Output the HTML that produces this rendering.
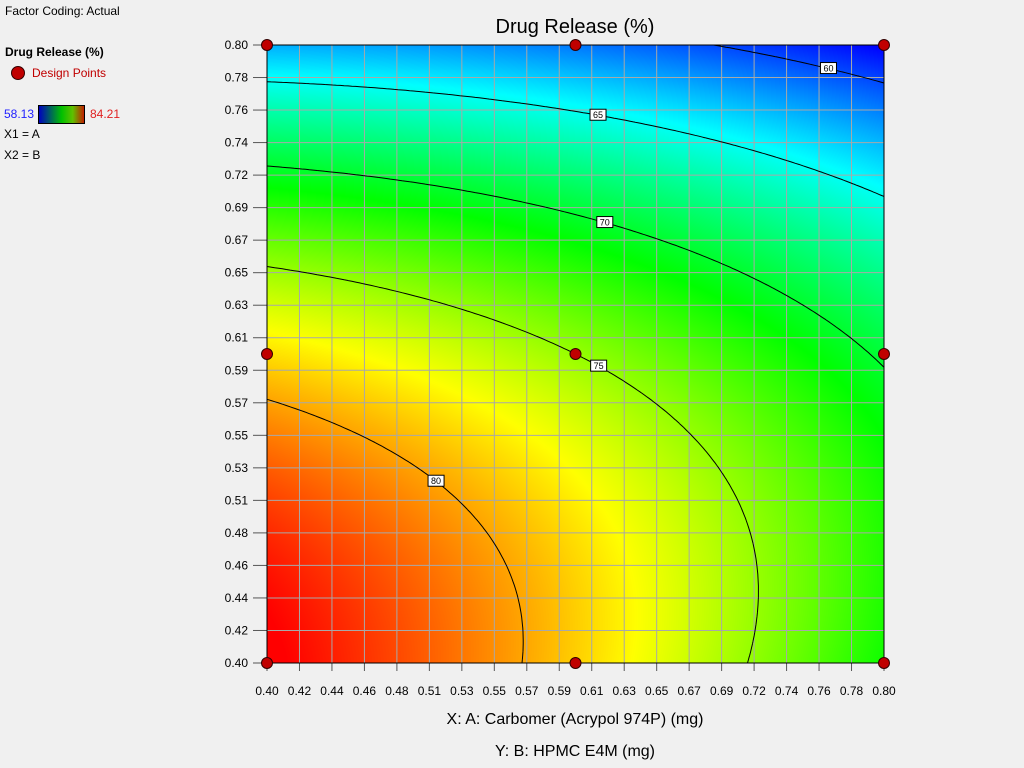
<!DOCTYPE html>
<html><head><meta charset="utf-8"><style>
body{margin:0;background:#f0f0f0;font-family:"Liberation Sans",sans-serif;}
#wrap{position:relative;width:1024px;height:768px;overflow:hidden;background:#f0f0f0}
.t{position:absolute;white-space:nowrap;color:#000}
</style></head><body>
<div id="wrap">
<div class="t" style="left:5px;top:4px;font-size:12px">Factor Coding: Actual</div>
<div class="t" style="left:5px;top:45px;font-size:12px;font-weight:bold">Drug Release (%)</div>
<div style="position:absolute;left:11px;top:66px;width:12px;height:12px;border-radius:50%;background:#c00000;border:1px solid #300"></div>
<div class="t" style="left:32px;top:66px;font-size:12px;color:#c00000">Design Points</div>
<div class="t" style="left:4px;top:107px;font-size:12px;color:#2020ff">58.13</div>
<div style="position:absolute;left:38px;top:105px;width:45px;height:17px;border:1px solid #000;background:linear-gradient(to right,#0000c0,#006060,#00c000,#60c000,#c02000)"></div>
<div class="t" style="left:90px;top:107px;font-size:12px;color:#e02020">84.21</div>
<div class="t" style="left:4px;top:127px;font-size:12px">X1 = A</div>
<div class="t" style="left:4px;top:148px;font-size:12px">X2 = B</div>
<div class="t" style="left:0;width:1150px;text-align:center;top:16px;font-size:20px">Drug Release (%)</div>
<canvas id="heat" width="617" height="618" style="position:absolute;left:267px;top:45px"></canvas>
<svg id="svg" width="1024" height="768" style="position:absolute;left:0;top:0"></svg>
<div class="t" style="left:0;width:1150px;text-align:center;top:711px;font-size:16px">X: A: Carbomer (Acrypol 974P) (mg)</div>
<div class="t" style="left:0;width:1150px;text-align:center;top:743px;font-size:16px">Y: B: HPMC E4M (mg)</div>
</div>
<script>
// quadratic model coefficients in coded units: [c0, A, B, AB, A^2, B^2]
const coefs=[75,-4.39,-8.85,2.11,-0.89,-4.95];
const colorRange=[58.13,84.21];
const contourLevels=[60,65,70,75,80];
const labelA=[0.764,0.6146,0.619,0.615,0.5096]; // actual A value where each contour label sits
const designA=[0.40,0.60,0.80,0.40,0.60,0.80,0.40,0.60,0.80];
const designB=[0.80,0.80,0.80,0.60,0.60,0.60,0.40,0.40,0.40];
const tickCount=20, lo=0.40, hi=0.80;

const X0=267,X1=884,Y0=663,Y1=45;
const sx=v=>X0+(v-lo)/(hi-lo)*(X1-X0);
const sy=v=>Y0-(v-lo)/(hi-lo)*(Y0-Y1);
const coded=v=>(v-0.6)/0.2;
function model(A,B){const a=coded(A),b=coded(B);const c=coefs;return c[0]+c[1]*a+c[2]*b+c[3]*a*b+c[4]*a*a+c[5]*b*b;}
function col(y){let t=(y-colorRange[0])/(colorRange[1]-colorRange[0]);t=Math.max(0,Math.min(1,t));
 const s=[[0,0,255],[0,255,255],[0,255,0],[255,255,0],[255,0,0]];const p=t*4,i=Math.min(3,Math.floor(p)),f=p-i;
 return s[i].map((v,k)=>Math.round(v+(s[i+1][k]-v)*f));}
const cv=document.getElementById('heat'),ctx=cv.getContext('2d'),W=cv.width,H=cv.height,img=ctx.createImageData(W,H);
for(let j=0;j<H;j++)for(let i=0;i<W;i++){const A=lo+(i+0.5)/W*(hi-lo),B=hi-(j+0.5)/H*(hi-lo);const c=col(model(A,B));const k=(j*W+i)*4;img.data[k]=c[0];img.data[k+1]=c[1];img.data[k+2]=c[2];img.data[k+3]=255;}
ctx.putImageData(img,0,0);
const NS='http://www.w3.org/2000/svg',svg=document.getElementById('svg');
function el(t,a,p){const e=document.createElementNS(NS,t);for(const k in a)e.setAttribute(k,a[k]);(p||svg).appendChild(e);return e;}
for(let i=0;i<tickCount;i++){const v=lo+i*(hi-lo)/(tickCount-1),lab=v.toFixed(2);
 const gx=el('line',{x1:sx(v),x2:sx(v),y1:Y1,y2:Y0,stroke:'#a8a8a8','stroke-width':1});
 
 const gy=el('line',{x1:X0,x2:X1,y1:sy(v),y2:sy(v),stroke:'#a8a8a8','stroke-width':1});
 
 el('line',{x1:sx(v),x2:sx(v),y1:Y0,y2:Y0+8,stroke:'#555'});
 el('line',{x1:X0-14,x2:X0,y1:sy(v),y2:sy(v),stroke:'#555'});
 const tx=el('text',{x:sx(v),y:Y0+32,'text-anchor':'middle','font-size':12,'font-family':'Liberation Sans'});tx.textContent=lab;
 
 const ty=el('text',{x:X0-19,y:sy(v)+4,'text-anchor':'end','font-size':12,'font-family':'Liberation Sans'});ty.textContent=lab;
 }
el('rect',{x:X0,y:Y1,width:X1-X0,height:Y0-Y1,fill:'none',stroke:'#000'});
const N=160;
contourLevels.forEach((L,li)=>{let d='';
 const val=(i,j)=>model(lo+i/N*(hi-lo),lo+j/N*(hi-lo));
 for(let i=0;i<N;i++)for(let j=0;j<N;j++){
  const c=[[i,j],[i+1,j],[i+1,j+1],[i,j+1]],v=c.map(p=>val(p[0],p[1]));const pts=[];
  for(let k=0;k<4;k++){const a=v[k],b=v[(k+1)%4];if((a-L)*(b-L)<0){const f=(L-a)/(b-a),p=c[k],q=c[(k+1)%4];
   pts.push([lo+(p[0]+(q[0]-p[0])*f)/N*(hi-lo),lo+(p[1]+(q[1]-p[1])*f)/N*(hi-lo)]);}}
  for(let k=0;k+1<pts.length;k+=2)d+=`M${sx(pts[k][0]).toFixed(1)},${sy(pts[k][1]).toFixed(1)}L${sx(pts[k+1][0]).toFixed(1)},${sy(pts[k+1][1]).toFixed(1)}`;}
 const p=el('path',{d:d,stroke:'#000','stroke-width':1,fill:'none'});
 
 const A=labelA[li];let bl=lo,bh=hi;const fl=model(A,bl)-L;
 for(let it=0;it<40;it++){const m=(bl+bh)/2;if((model(A,m)-L)*fl>0)bl=m;else bh=m;}
 const Bv=(bl+bh)/2,lx=sx(A),ly=sy(Bv);
 const g=el('g',{});
 el('rect',{x:lx-8,y:ly-6,width:16,height:11,fill:'#fff',stroke:'#000','stroke-width':1},g);
 const t=el('text',{x:lx,y:ly+3,'text-anchor':'middle','font-size':9,'font-family':'Liberation Sans'},g);t.textContent=L;});
designA.forEach((A,i)=>{const c=el('circle',{cx:sx(A),cy:sy(designB[i]),r:5.5,fill:'#c00000',stroke:'#300','stroke-width':1});
 });
</script>
</body></html>
